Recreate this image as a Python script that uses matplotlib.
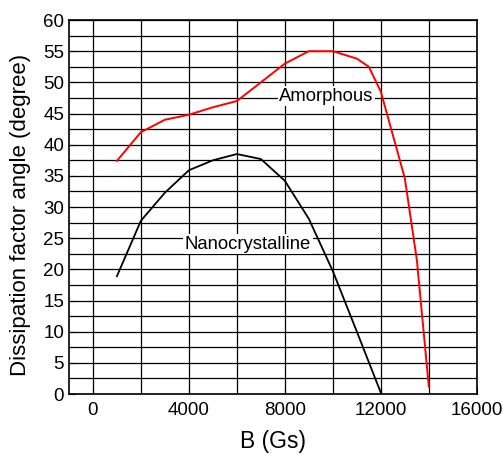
import numpy as np
import matplotlib
matplotlib.use("Agg")
import matplotlib.pyplot as plt
from matplotlib.ticker import MultipleLocator

plt.rcParams['font.family'] = ['Liberation Sans', 'DejaVu Sans']

# data
b_amor = [1000, 2000, 3000, 4000, 5000, 6000, 7000, 8000, 9000, 10000, 11000, 11500, 12000, 13000, 13500, 14000]
ang_amor = [37.4, 42.0, 44.0, 44.8, 46.0, 47.0, 50.0, 53.0, 55.0, 55.0, 53.8, 52.5, 48.5, 34.6, 21.5, 1.2]

b_nano = [1000, 2000, 3000, 4000, 5000, 6000, 7000, 8000, 9000, 10000, 11000, 12000]
ang_nano = [18.9, 27.8, 32.3, 35.9, 37.5, 38.5, 37.7, 34.2, 28.1, 19.7, 10.0, 0.2]

fig = plt.figure(figsize=(5.03, 4.55), dpi=100)
ax = fig.add_axes([0.137, 0.134, 0.811, 0.822])

ax.plot(b_amor, ang_amor, color='red', lw=1.4, zorder=3)
ax.plot(b_nano, ang_nano, color='black', lw=1.3, zorder=3)

ax.set_xlim(-1000, 16000)
ax.set_ylim(0, 60)
ax.xaxis.set_major_locator(MultipleLocator(4000))
ax.xaxis.set_minor_locator(MultipleLocator(2000))
ax.yaxis.set_major_locator(MultipleLocator(5))
ax.yaxis.set_minor_locator(MultipleLocator(2.5))
ax.grid(which='both', color='black', lw=0.9)
ax.tick_params(which='both', direction='in', labelsize=13.5)
ax.tick_params(axis='x', pad=6)
ax.tick_params(which='major', length=5)
ax.tick_params(which='minor', length=3)
for s in ax.spines.values():
    s.set_linewidth(1.2)

ax.set_xlabel('B (Gs)', fontsize=16.5, labelpad=8)
ax.set_ylabel('Dissipation factor angle (degree)', fontsize=16)
ax.yaxis.set_label_coords(-0.093, 0.479)

box = dict(facecolor='white', edgecolor='none', pad=1)
ax.text(9730, 47.8, 'Amorphous', fontsize=13.3, ha='center', va='center', bbox=box, zorder=4)
ax.text(6460, 24.0, 'Nanocrystalline', fontsize=13.3, ha='center', va='center', bbox=box, zorder=4)

fig.savefig('out.png', dpi=100)
